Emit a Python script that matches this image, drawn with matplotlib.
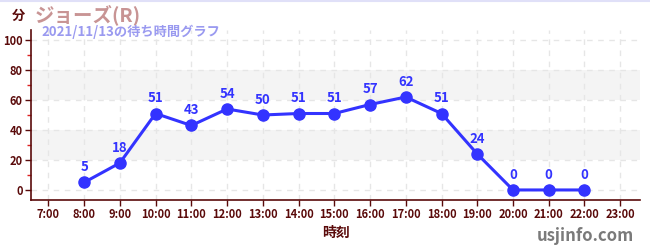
import matplotlib
matplotlib.use('Agg')
from matplotlib import pyplot as plt

plt.rcParams['font.family'] = ['Noto Sans CJK JP', 'DejaVu Sans']

# データ
hours = [8, 9, 10, 11, 12, 13, 14, 15, 16, 17, 18, 19, 20, 21, 22]
wait = [5, 18, 51, 43, 54, 50, 51, 51, 57, 62, 51, 24, 0, 0, 0]
xticks = list(range(7, 24))
xlabels = ['%d:00' % h for h in xticks]
yticks = [0, 20, 40, 60, 80, 100]

title = 'ジョーズ(R)'
subtitle = '2021/11/13の待ち時間グラフ'

dark = '#5a0a0a'
blue = '#3333ff'

fig = plt.figure(figsize=(6.5, 2.5), dpi=100)
ax = fig.add_axes([0.048, 0.2, 0.937, 0.68])

# 背景の帯
for lo in [20, 60]:
    ax.axhspan(lo, lo + 20, color='#f4f4f4', zorder=0, lw=0)

ax.plot(hours, wait, color=blue, lw=2.2, marker='o', ms=8, zorder=3)
for h, v in zip(hours, wait):
    ax.annotate(str(v), (h, v), xytext=(0, 6), textcoords='offset points',
                ha='center', va='bottom', color=blue, fontsize=9.5, fontweight='bold')

ax.set_xlim(6.52, 23.56)
ax.set_ylim(-6.7, 106.7)
ax.set_xticks(xticks)
ax.set_xticklabels(xlabels)
ax.set_yticks(yticks)
ax.set_yticks([10, 30, 50, 70, 90], minor=True)
ax.grid(True, which='major', color='#e6e6e6', ls=(0, (4, 4)), lw=1)
ax.set_axisbelow(True)

for s in ['top', 'right']:
    ax.spines[s].set_visible(False)
for s in ['left', 'bottom']:
    ax.spines[s].set_color(dark)
    ax.spines[s].set_linewidth(1.2)

ax.tick_params(axis='both', which='major', colors=dark, labelsize=8, length=4, width=1, pad=2)
ax.tick_params(axis='y', which='minor', colors='#dd2222', length=3, width=1)
for lbl in ax.get_xticklabels() + ax.get_yticklabels():
    lbl.set_fontweight('bold')
    lbl.set_color(dark)

ax.set_xlabel('時刻', color=dark, fontsize=10, fontweight='bold', labelpad=3)

fig.text(0.018, 0.935, '分', color=dark, fontsize=9.5, fontweight='bold', va='center')
fig.text(0.054, 0.94, title, color='#c89494', fontsize=14, fontweight='bold', va='center')
fig.text(0.064, 0.872, subtitle, color='#9a9af0', fontsize=9.5, fontweight='bold', va='center')
fig.text(0.975, 0.055, 'usjinfo.com', color='#7a7a7a', fontsize=12, fontweight='bold',
         ha='right', va='center')

# 上端の細い線
fig.add_artist(plt.Line2D([0, 1], [0.998, 0.998], color='#e0e0f8', lw=1.5))

plt.savefig('out.png', dpi=100)
